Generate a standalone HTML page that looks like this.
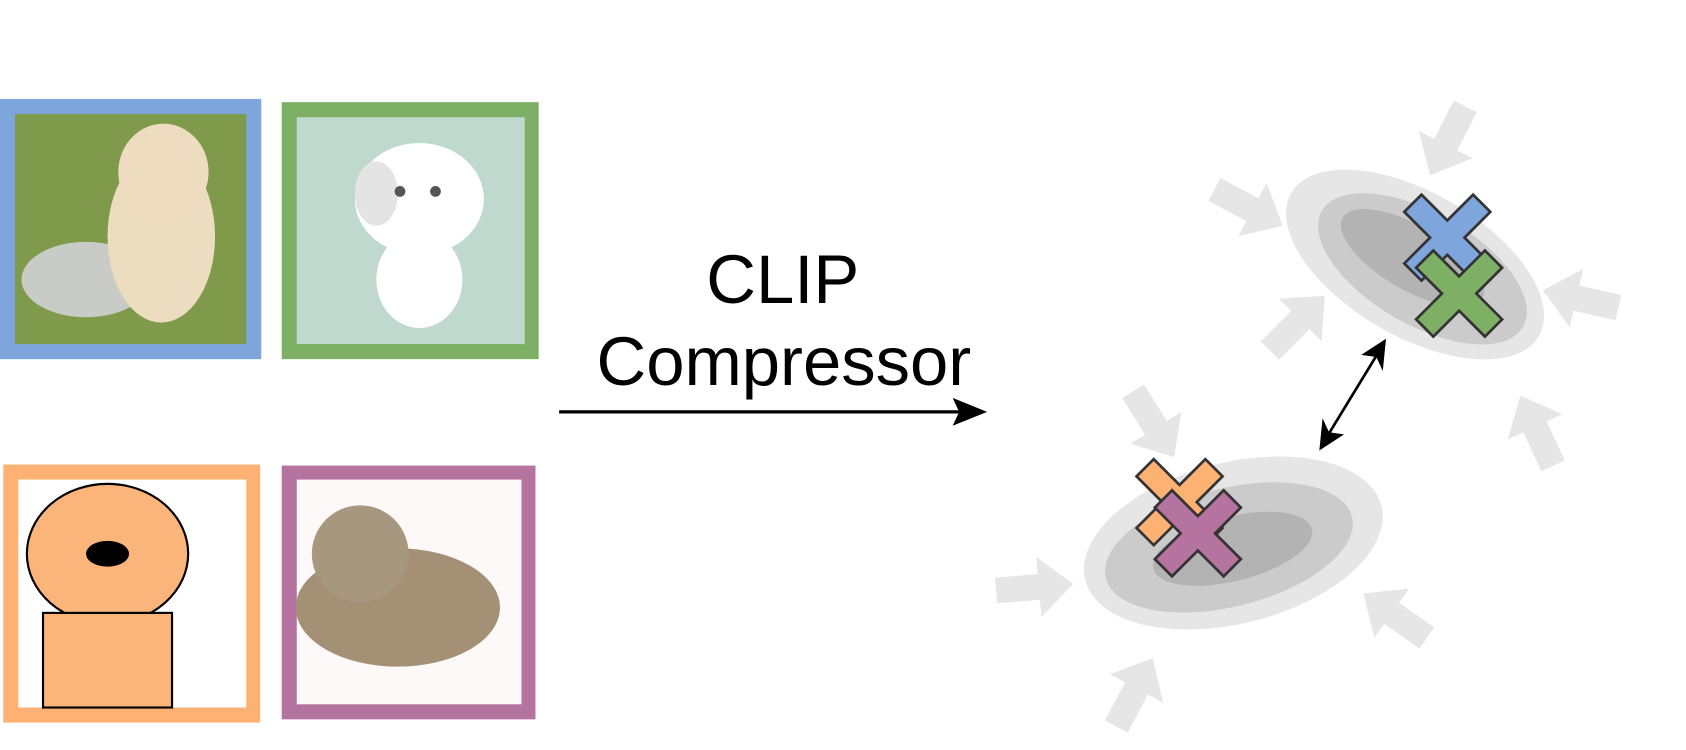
<!DOCTYPE html>
<html><head><meta charset="utf-8"><style>html,body{margin:0;padding:0;background:#fff;}svg{display:block}</style></head>
<body>
<svg width="1686" height="750" viewBox="0 0 1568 697.5" xmlns="http://www.w3.org/2000/svg">
<defs>
<polygon id="ga" points="0,0 -32,-28 -32,-12 -72,-12 -72,12 -32,12 -32,28" fill="#e6e6e6"/>
<g id="cx"><polygon points="-40,-24 -24,-40 0,-16 24,-40 40,-24 16,0 40,24 24,40 0,16 -24,40 -40,24 -16,0" stroke="#333" stroke-width="2.5" stroke-linejoin="miter"/></g>
</defs>
<!-- image panels -->
<rect x="0" y="92" width="243" height="242" fill="#7ea6dc"/>
<rect x="14" y="106" width="215" height="214" fill="#7f9a4a"/>
<ellipse cx="80" cy="260" rx="60" ry="35" fill="#c9ccc6"/>
<ellipse cx="150" cy="220" rx="50" ry="80" fill="#ecdcc0"/>
<ellipse cx="152" cy="160" rx="42" ry="45" fill="#eddcbf"/>
<rect x="262" y="95" width="239" height="239" fill="#7db065"/>
<rect x="276" y="109" width="212" height="211" fill="#bfd9cf"/>
<ellipse cx="390" cy="185" rx="60" ry="52" fill="#fff"/>
<ellipse cx="390" cy="260" rx="40" ry="45" fill="#fff"/>
<ellipse cx="350" cy="180" rx="20" ry="30" fill="#e4e4e4"/>
<circle cx="372" cy="178" r="5" fill="#555"/><circle cx="405" cy="178" r="5" fill="#555"/>
<rect x="3" y="432" width="239" height="240" fill="#fdb273"/>
<rect x="17" y="446" width="212" height="212" fill="#fff"/>
<ellipse cx="100" cy="515" rx="75" ry="65" fill="#fbb57b" stroke="#000" stroke-width="2"/>
<rect x="40" y="570" width="120" height="88" fill="#fbb57b" stroke="#000" stroke-width="2"/>
<ellipse cx="100" cy="515" rx="20" ry="12" fill="#000"/>
<rect x="262" y="433" width="236" height="236" fill="#b5739f"/>
<rect x="276" y="446" width="209" height="209" fill="#fcf9f8"/>
<ellipse cx="370" cy="565" rx="95" ry="55" fill="#a39075"/>
<ellipse cx="335" cy="515" rx="45" ry="45" fill="#a8977f"/>
<!-- text -->
<g font-family="Liberation Sans, sans-serif" font-size="64" fill="#000" text-anchor="middle">
<text x="728" y="282">CLIP</text>
<text x="729" y="358">Compressor</text>
</g>
<line x1="520" y1="383" x2="892" y2="383" stroke="#000" stroke-width="3"/>
<polygon points="918,383 886,370 892,383 886,396" fill="#000"/>
<!-- clusters -->
<g transform="translate(1316,246) rotate(30)">
<ellipse rx="133" ry="67" fill="#e6e6e6"/>
<ellipse cx="8" cy="0" rx="108" ry="52" fill="#cbcbcb"/>
<ellipse cx="-5" cy="-4" rx="75" ry="30" fill="#b3b3b3"/>
</g>
<g transform="translate(1147,505) rotate(-14)">
<ellipse rx="142" ry="75" fill="#e6e6e6"/>
<ellipse cx="-5" cy="3" rx="118" ry="55" fill="#cbcbcb"/>
<ellipse cx="-2" cy="5" rx="76" ry="30" fill="#b3b3b3"/>
</g>
<!-- gray arrows -->
<use href="#ga" transform="translate(1330,163) rotate(117)"/>
<use href="#ga" transform="translate(1193,210) rotate(28)"/>
<use href="#ga" transform="translate(1232,275) rotate(-45)"/>
<use href="#ga" transform="translate(1435,270) rotate(193)"/>
<use href="#ga" transform="translate(1414,368) rotate(245)"/>
<use href="#ga" transform="translate(1092,425) rotate(58)"/>
<use href="#ga" transform="translate(998,543) rotate(-5)"/>
<use href="#ga" transform="translate(1268,552) rotate(215)"/>
<use href="#ga" transform="translate(1072,612) rotate(-62)"/>
<!-- double arrow -->
<line x1="1283" y1="326" x2="1233" y2="408" stroke="#000" stroke-width="2.5"/>
<polygon points="1289,315 1266,330 1280,332 1286,345" fill="#000"/>
<polygon points="1227,419 1250,404 1236,402 1230,389" fill="#000"/>
<!-- crosses -->
<use href="#cx" transform="translate(1346,221)" fill="#7ea6dc"/>
<use href="#cx" transform="translate(1357,273)" fill="#7db065"/>
<use href="#cx" transform="translate(1097,467)" fill="#fdb273"/>
<use href="#cx" transform="translate(1114,496)" fill="#b5739f"/>
</svg>
</body></html>
